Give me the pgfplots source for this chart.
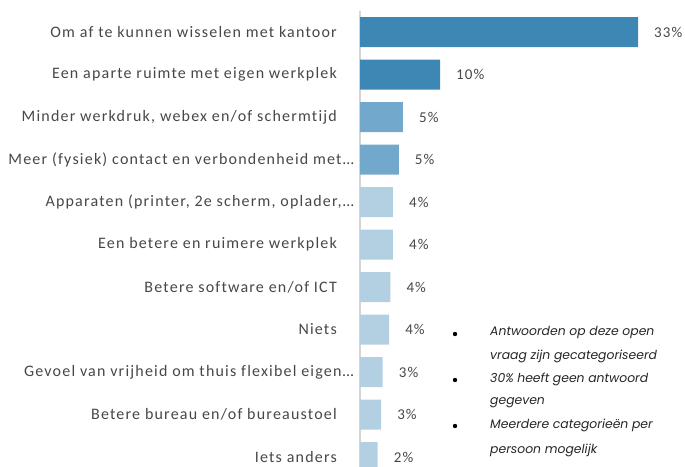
\documentclass[border=0pt]{standalone}
\usepackage{pgfplots}
\pgfplotsset{compat=1.18}
\usepackage{fontspec}
\setmainfont{Carlito}
\newfontfamily\labfont[LetterSpace=7.5,Ligatures={NoCommon,NoRequired,NoContextual}]{Carlito}
\newfontfamily\notefont{Poppins}
\definecolor{darkb}{HTML}{3C87B4}
\definecolor{midb}{HTML}{71A8CB}
\definecolor{lightb}{HTML}{B3D0E3}
\definecolor{axgray}{HTML}{D4D4D4}
\definecolor{txt}{HTML}{474747}
\newcommand{\gap}{\hspace*{17pt}}
\begin{document}
\begin{tikzpicture}[x=1pt,y=1pt]
\useasboundingbox (0,0) rectangle (685,-466);
\begin{axis}[
  at={(360pt,-10.75pt)}, anchor=north west,
  scale only axis, width=278pt, height=467.5pt,
  xmin=0, xmax=33, ymin=-0.5, ymax=10.5, y dir=reverse,
  hide x axis, axis y line*=left,
  y axis line style={draw=axgray, line width=1.2pt, -},
  ytick={0,...,10}, major tick length=0pt,
  yticklabels={
    Om af te kunnen wisselen met kantoor\gap,
    Een aparte ruimte met eigen werkplek\gap,
    {Minder werkdruk, webex en/of schermtijd\gap},
    Meer (fysiek) contact en verbondenheid met\ldots,
    {Apparaten (printer, 2e scherm, oplader,\ldots},
    Een betere en ruimere werkplek\gap,
    Betere software en/of ICT\gap,
    Niets\gap,
    Gevoel van vrijheid om thuis flexibel eigen\ldots,
    Betere bureau en/of bureaustoel\gap,
    Iets anders\gap},
  yticklabel style={anchor=east, inner sep=0pt, xshift=-6pt, font=\labfont\fontsize{16}{18}\selectfont, text=txt},
  xbar, bar width=30pt, bar shift=0pt,
  point meta=explicit symbolic,
  nodes near coords,
  nodes near coords style={anchor=west, inner sep=0pt, xshift=16pt, font=\labfont\fontsize{15}{17}\selectfont, text=txt},
  clip=false,
]
\addplot[fill=darkb, draw=none, bar shift=0pt] coordinates {(33,0) [33\%] (9.5,1) [10\%]};
\addplot[fill=midb, draw=none, bar shift=0pt] coordinates {(5.1,2) [5\%] (4.6,3) [5\%]};
\addplot[fill=lightb, draw=none, bar shift=0pt] coordinates {(3.9,4) [4\%] (3.9,5) [4\%] (3.6,6) [4\%] (3.45,7) [4\%] (2.7,8) [3\%] (2.5,9) [3\%] (2.1,10) [2\%]};
\end{axis}
\begin{scope}[every node/.style={anchor=west, inner sep=0pt, font=\notefont\itshape\fontsize{12.4}{14}\selectfont, text=black!85}]
\node at (490,-333) {Antwoorden op deze open};
\node at (490,-356) {vraag zijn gecategoriseerd};
\node at (490,-379) {30\% heeft geen antwoord};
\node at (490,-403) {gegeven};
\node at (490,-425) {Meerdere categorieën per};
\node at (490,-450) {persoon mogelijk};
\fill (455,-334) circle (2.2pt);
\fill (455,-380) circle (2.2pt);
\fill (455,-426) circle (2.2pt);
\end{scope}
\end{tikzpicture}
\end{document}
